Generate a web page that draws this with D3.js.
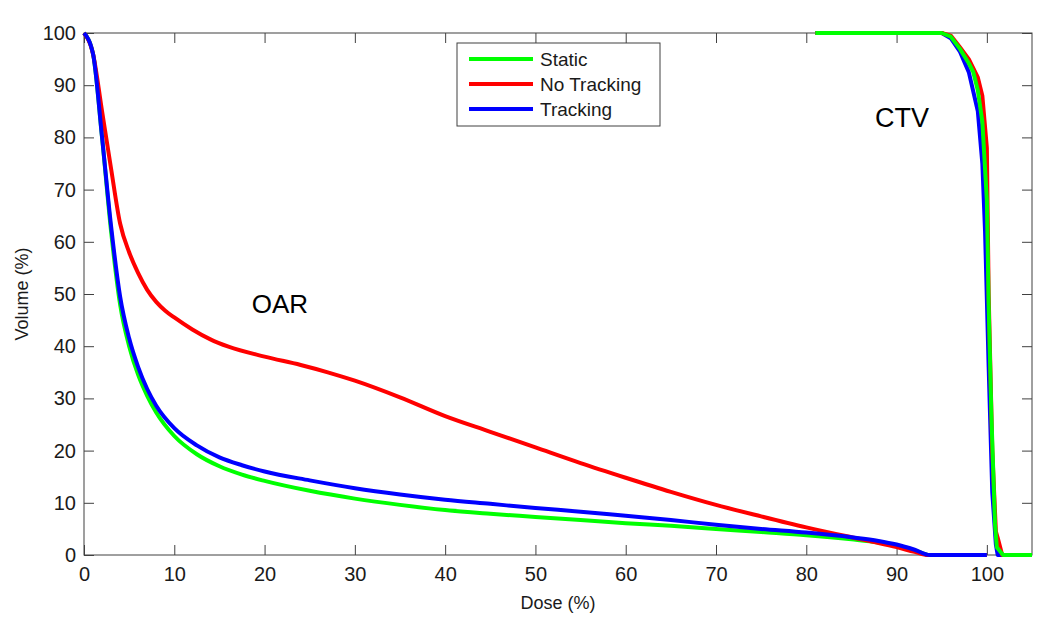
<!DOCTYPE html>
<html>
<head>
<meta charset="utf-8">
<script src="https://cdn.jsdelivr.net/npm/d3@7"></script>
<style>
  body { margin: 0; background: #fff; }
  svg { font-family: "Liberation Sans", Arial, sans-serif; }
</style>
</head>
<body>
<svg id="chart" width="1050" height="617"></svg>
<script>
// dose (%) / volume (%) pairs
const oarStatic = [[0,100],[1,96],[2,80],[3,62],[4,48],[5,40],[6,34.5],[7,30.5],[8,27.3],[10,22.8],[12.5,19.3],[15,17.0],[17.5,15.4],[20,14.2],[25,12.3],[30,10.8],[35,9.6],[40,8.6],[45,7.9],[50,7.3],[55,6.7],[60,6.1],[65,5.6],[70,5.0],[75,4.4],[80,3.8],[85,3.0],[88,2.4],[90,1.8],[92,0.9],[93.7,0],[100,0]];
const oarNoTracking = [[0,100],[1,96],[2,85],[3,74],[4,63.5],[5,58],[6,54],[7,50.8],[8,48.5],[9,46.8],[10,45.5],[12,43.2],[14,41.3],[16,39.9],[20,38],[24,36.4],[27,35],[30,33.4],[35,30.2],[40,26.6],[45,23.6],[50,20.6],[55,17.6],[60,14.8],[65,12.1],[70,9.6],[75,7.4],[80,5.3],[85,3.4],[88,2.3],[90,1.5],[92,0.6],[93.5,0],[100,0]];
const oarTracking = [[0,100],[1,96],[2,80],[3,63],[4,49.5],[5,41.5],[6,36],[7,31.8],[8,28.6],[10,24.3],[12.5,21],[15,18.7],[17.5,17.2],[20,16.0],[25,14.3],[30,12.8],[35,11.6],[40,10.6],[45,9.8],[50,9.0],[55,8.3],[60,7.5],[65,6.7],[70,5.8],[75,5.0],[80,4.3],[85,3.4],[88,2.7],[90,2.0],[92,1.0],[93.7,0],[100,0]];
const ctvStatic = [[81,100],[95,100],[96,99.3],[97,97],[98,94.2],[98.5,92.5],[99,89],[99.5,83],[100,68],[100.2,48],[100.5,27],[100.9,6],[101.1,1.5],[101.8,0],[105,0]];
const ctvNoTracking = [[81,100],[95,100],[96,99.5],[97,97.3],[98,95],[99,91.5],[99.5,88],[100,78],[100.2,50],[100.6,20],[101,4.5],[101.2,3.3],[101.7,0],[105,0]];
const ctvTracking = [[81,100],[95,100],[96,99],[97,96.5],[98,92.5],[99,85],[99.5,75],[99.8,62],[100.2,36],[100.6,12],[101,2],[101.2,0],[105,0]];

const seriesNames = ["Static", "No Tracking", "Tracking"];
const seriesColors = ["#00ff00", "#ff0000", "#0000ff"];
const xTicks = [0,10,20,30,40,50,60,70,80,90,100];
const yTicks = [0,10,20,30,40,50,60,70,80,90,100];

const plotLeft = 84, plotRight = 1032, plotTop = 33, plotBottom = 555;
const svg = d3.select("#chart");

const x = d3.scaleLinear().domain([0, 105]).range([plotLeft, plotRight]);
const y = d3.scaleLinear().domain([0, 100]).range([plotBottom, plotTop]);

// box with inward ticks on all four sides
const axisColor = "#404040";
function styleAxis(g) {
  g.select(".domain").remove();
  g.selectAll(".tick line").attr("stroke", axisColor);
  g.selectAll(".tick text").attr("fill", "#1a1a1a").style("font-size", "20px");
}
svg.append("g").attr("transform", `translate(0,${plotBottom})`)
  .call(d3.axisBottom(x).tickValues(xTicks).tickSizeInner(-10).tickSizeOuter(0).tickPadding(12))
  .call(styleAxis);
svg.append("g").attr("transform", `translate(0,${plotTop})`)
  .call(d3.axisTop(x).tickValues(xTicks).tickSizeInner(-10).tickSizeOuter(0).tickFormat(""))
  .call(styleAxis);
svg.append("g").attr("transform", `translate(${plotLeft},0)`)
  .call(d3.axisLeft(y).tickValues(yTicks).tickSizeInner(-10).tickSizeOuter(0).tickPadding(8))
  .call(styleAxis);
svg.append("g").attr("transform", `translate(${plotRight},0)`)
  .call(d3.axisRight(y).tickValues(yTicks).tickSizeInner(-10).tickSizeOuter(0).tickFormat(""))
  .call(styleAxis);
svg.append("rect")
  .attr("x", plotLeft).attr("y", plotTop)
  .attr("width", plotRight - plotLeft).attr("height", plotBottom - plotTop)
  .attr("fill", "none").attr("stroke", axisColor).attr("stroke-width", 1);

const smooth = d3.line().x(d => x(d[0])).y(d => y(d[1])).curve(d3.curveMonotoneX);
const straight = d3.line().x(d => x(d[0])).y(d => y(d[1]));

// OAR drawn static, no tracking, tracking; CTV drawn so that static ends on top
const drawOrder = [
  [oarStatic, 0, smooth], [oarNoTracking, 1, smooth], [oarTracking, 2, smooth],
  [ctvTracking, 2, straight], [ctvNoTracking, 1, straight], [ctvStatic, 0, straight]
];
drawOrder.forEach(([data, i, gen]) => {
  svg.append("path")
    .datum(data)
    .attr("d", gen)
    .attr("fill", "none")
    .attr("stroke", seriesColors[i])
    .attr("stroke-width", 4)
    .attr("stroke-linejoin", "round");
});

// annotations
svg.append("text").attr("x", x(21.7)).attr("y", y(46.4))
  .attr("text-anchor", "middle").style("font-size", "26px").text("OAR");
svg.append("text").attr("x", x(90.6)).attr("y", y(82))
  .attr("text-anchor", "middle").style("font-size", "27px").text("CTV");

// axis labels
svg.append("text").attr("x", (plotLeft + plotRight) / 2).attr("y", 609)
  .attr("text-anchor", "middle").style("font-size", "18px").attr("fill", "#1a1a1a").text("Dose (%)");
svg.append("text").attr("transform", `translate(28,${(plotTop + plotBottom) / 2}) rotate(-90)`)
  .attr("text-anchor", "middle").style("font-size", "18px").attr("fill", "#1a1a1a").text("Volume (%)");

// legend
const legend = svg.append("g").attr("transform", "translate(457,43)");
legend.append("rect").attr("width", 203).attr("height", 83)
  .attr("fill", "#fff").attr("stroke", axisColor).attr("stroke-width", 1);
seriesNames.forEach((name, i) => {
  const row = legend.append("g").attr("transform", `translate(0,${16 + i * 25})`);
  row.append("line").attr("x1", 12).attr("x2", 76)
    .attr("stroke", seriesColors[i]).attr("stroke-width", 4);
  row.append("text").attr("x", 83).attr("y", 7)
    .style("font-size", "19px").attr("fill", "#1a1a1a").text(name);
});
</script>
</body>
</html>
